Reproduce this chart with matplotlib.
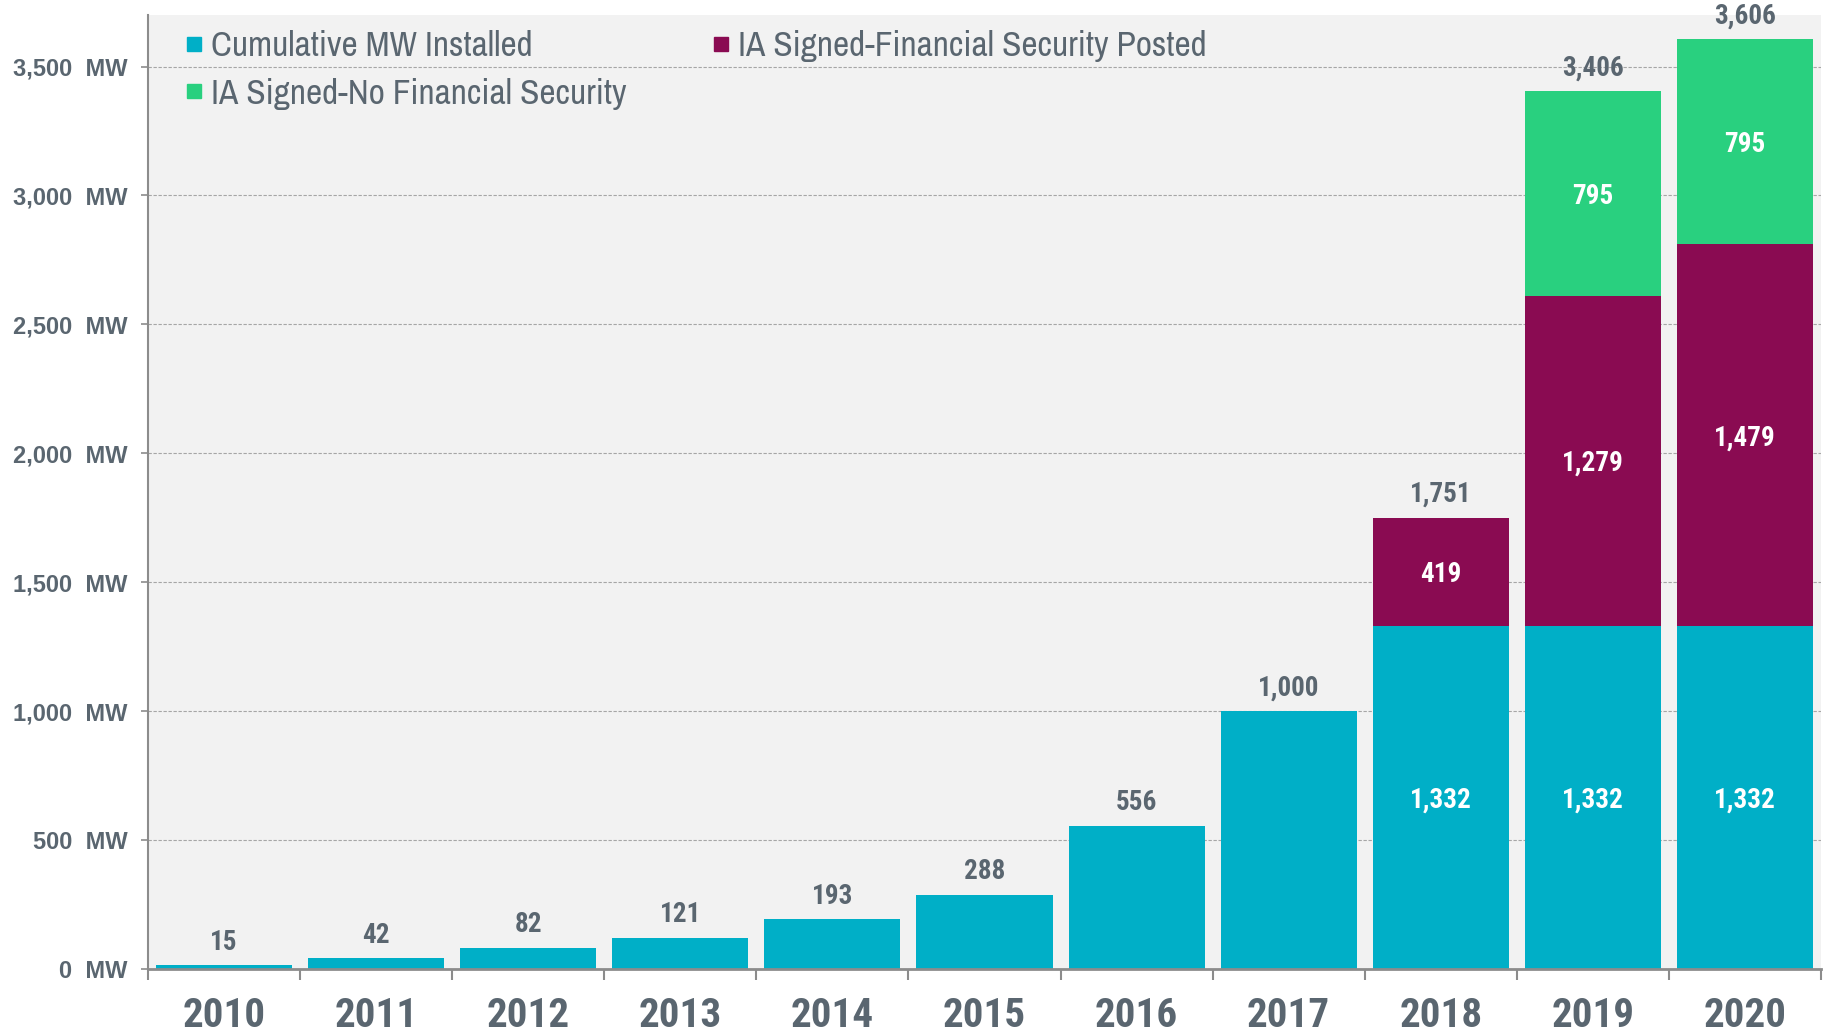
import matplotlib
matplotlib.use("Agg")
import matplotlib.pyplot as plt
from matplotlib.lines import Line2D
from matplotlib import font_manager

years = ["2010", "2011", "2012", "2013", "2014", "2015", "2016", "2017", "2018", "2019", "2020"]
installed = [15, 42, 82, 121, 193, 288, 556, 1000, 1332, 1332, 1332]
fin_posted = [0, 0, 0, 0, 0, 0, 0, 0, 419, 1279, 1479]
no_fin = [0, 0, 0, 0, 0, 0, 0, 0, 0, 795, 795]
yticks = [0, 500, 1000, 1500, 2000, 2500, 3000, 3500]
series_names = ["Cumulative MW Installed", "IA Signed-Financial Security Posted",
                "IA Signed-No Financial Security"]

C_TEAL = "#00AFC7"
C_MAROON = "#8A0B52"
C_GREEN = "#29D07F"
TXT = "#5A6670"

CANDS = ["Liberation Sans Narrow", "Arial Narrow", "Archivo Narrow", "Roboto Condensed",
         "PT Sans Narrow", "IBM Plex Sans Condensed", "Open Sans Condensed"]


def wnum(wt):
    if isinstance(wt, (int, float)):
        return wt
    return font_manager.weight_dict.get(str(wt), 400)


fonts = font_manager.fontManager.ttflist
names = {f.name for f in fonts}
NARROW = "Liberation Sans"
for cand in CANDS:
    if cand in names:
        NARROW = cand
        break
NARROW_B = "Liberation Sans"
for cand in CANDS:
    if any(f.name == cand and wnum(f.weight) >= 700 and f.style == "normal" for f in fonts):
        NARROW_B = cand
        break
REG = "Liberation Sans"

fig = plt.figure(figsize=(18.27, 10.32), dpi=100)
ax = fig.add_axes([148 / 1827, 1 - 969 / 1032, (1821 - 148) / 1827, (969 - 15) / 1032])
ax.set_facecolor("#F2F2F2")

x = list(range(len(years)))
w = 0.895
ax.bar(x, installed, width=w, color=C_TEAL, zorder=3)
ax.bar(x, fin_posted, width=w, bottom=installed, color=C_MAROON, zorder=3)
bottom3 = [a + b for a, b in zip(installed, fin_posted)]
ax.bar(x, no_fin, width=w, bottom=bottom3, color=C_GREEN, zorder=3)

totals = [a + b + c for a, b, c in zip(installed, fin_posted, no_fin)]

lab_font = dict(family=NARROW_B, weight="bold", size=19.5)


def inner(i, y, v):
    ax.annotate(f"{v:,}", xy=(i, y), xytext=(0, -2), textcoords="offset points",
                ha="center", va="center", color="white", zorder=4, **lab_font)


for i in x:
    ax.annotate(f"{totals[i]:,}", xy=(i, totals[i]), xytext=(0, 16.5), textcoords="offset points",
                ha="center", va="center", color=TXT, **lab_font)
    if fin_posted[i] > 0 or no_fin[i] > 0:
        inner(i, installed[i] / 2, installed[i])
        if fin_posted[i] > 0:
            inner(i, installed[i] + fin_posted[i] / 2, fin_posted[i])
        if no_fin[i] > 0:
            inner(i, bottom3[i] + no_fin[i] / 2, no_fin[i])

ax.set_xlim(-0.5, len(years) - 0.5)
ax.set_ylim(0, 3700)

ax.set_yticks(yticks)
ax.set_yticklabels([f"{v:,}  MW" for v in yticks], family=REG, weight="bold",
                   size=17, color=TXT)
ax.tick_params(axis="y", length=5, width=1.2, color="#8C8C8C", pad=10)
ax.yaxis.grid(True, linestyle=(0, (3, 1.5)), color="#A6A6A6", linewidth=0.8, zorder=1)

ax.set_xticks(x)
ax.set_xticklabels(years, family=NARROW_B, weight="bold", size=29.5, color=TXT)
ax.tick_params(axis="x", which="major", length=0, pad=20.5)
ax.set_xticks([i - 0.5 for i in range(len(years) + 1)], minor=True)
ax.tick_params(axis="x", which="minor", length=8, width=1.5, color="#8C8C8C")

for s in ["top", "right"]:
    ax.spines[s].set_visible(False)
ax.spines["left"].set_color("#8C8C8C")
ax.spines["left"].set_linewidth(1.5)
ax.spines["bottom"].set_color("#8C8C8C")
ax.spines["bottom"].set_linewidth(2)
ax.spines["bottom"].set_zorder(5)

handles = [Line2D([], [], marker="s", linestyle="none", markersize=10, color=C_TEAL),
           Line2D([], [], marker="s", linestyle="none", markersize=10, color=C_GREEN),
           Line2D([], [], marker="s", linestyle="none", markersize=10, color=C_MAROON)]
labels = [series_names[0], series_names[2], series_names[1]]
leg = ax.legend(handles, labels, ncol=2, loc="upper left", bbox_to_anchor=(0.0146, 0.9987),
                frameon=False, prop=dict(family=NARROW, size=25.4), handlelength=0.45,
                handletextpad=0.25, columnspacing=2.45, labelspacing=0.43, borderaxespad=0)
for t in leg.get_texts():
    t.set_color(TXT)

fig.savefig("out.png", dpi=100, facecolor="white")
